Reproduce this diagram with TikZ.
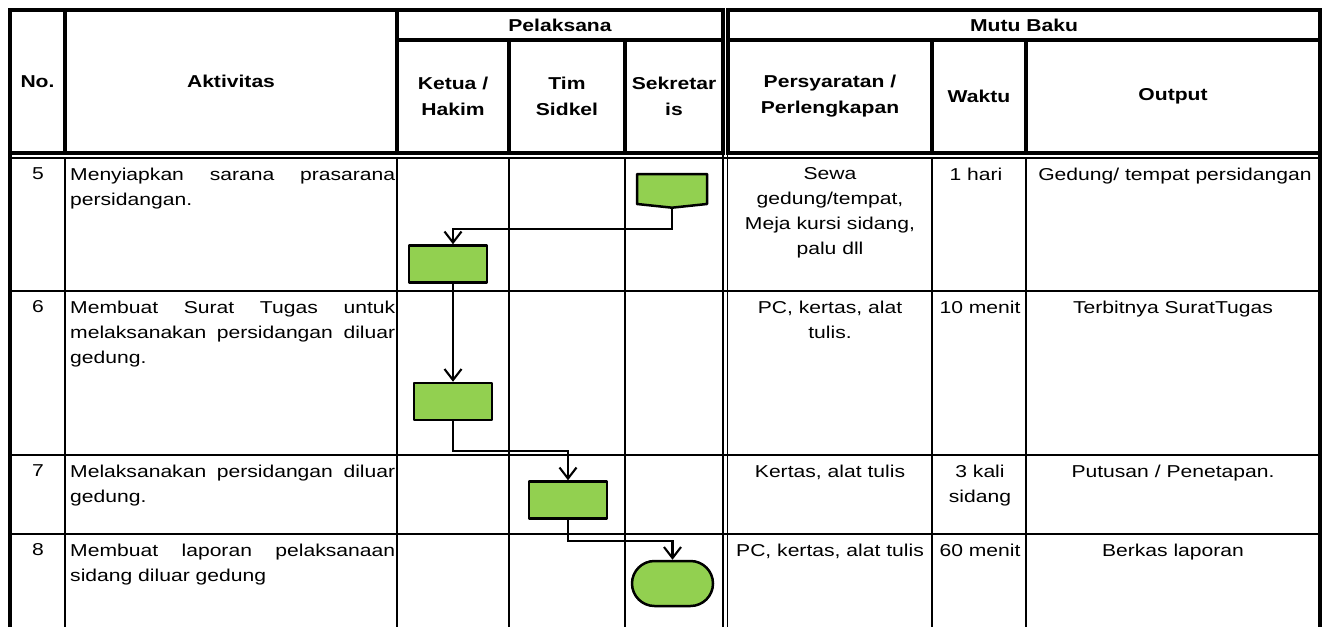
\documentclass[tikz,border=0pt]{standalone}
\usepackage{fontspec}
\setmainfont{Liberation Sans}[FakeStretch=1.227]
\usepackage{tikz}
\usetikzlibrary{positioning, arrows.meta, shapes.misc, shapes.symbols}
\definecolor{flowgreen}{HTML}{92D050}

\begin{document}
\begin{tikzpicture}[
  x=1pt, y=-1pt,
  font=\fontsize{17.2}{25}\selectfont,
  heavyrule/.style={line width=3.5pt},
  lightrule/.style={line width=1.8pt},
  borderrule/.style={line width=4.5pt},
  head/.style={font=\fontsize{17.2}{26}\selectfont\bfseries, align=center,
               inner sep=0pt},
  cell/.style={anchor=north, align=center, inner sep=0pt},
  act/.style={anchor=north west, text width=325pt, align=justify,
              inner sep=0pt},
  proc/.style={draw, fill=flowgreen, line width=2.5pt, line join=round,
               minimum width=78pt, minimum height=37pt, inner sep=0pt},
  offpage/.style={draw, fill=flowgreen, line width=2.5pt, line join=round,
                  shape=signal, signal to=south, signal from=nowhere,
                  signal pointer angle=168, minimum width=70pt,
                  minimum height=30pt, inner sep=0pt},
  term/.style={draw, fill=flowgreen, line width=2.5pt, rounded rectangle,
               minimum width=81pt, minimum height=45pt, inner sep=0pt},
  arr/.style={-{Straight Barb[length=11pt, width=17pt]}, line width=2.1pt},
]
\useasboundingbox (0,0) rectangle (1328,627);

% header frame
\draw[heavyrule] (10,10) rectangle (723,153);
\draw[heavyrule] (728,10) rectangle (1320,153);
\draw[heavyrule] (65,10) -- (65,153);
\draw[heavyrule] (397,10) -- (397,153);
\draw[heavyrule] (397,40) -- (723,40);
\draw[heavyrule] (509,40) -- (509,153);
\draw[heavyrule] (625,40) -- (625,153);
\draw[heavyrule] (728,40) -- (1320,40);
\draw[heavyrule] (932,40) -- (932,153);
\draw[heavyrule] (1026,40) -- (1026,153);
\draw[lightrule] (10,158) -- (1320,158);

% body grid
\draw[borderrule] (10,153) -- (10,627);
\draw[borderrule] (1320,153) -- (1320,627);
\draw[lightrule] (65,158) -- (65,627);
\draw[lightrule] (397,158) -- (397,627);
\draw[lightrule] (509,158) -- (509,627);
\draw[lightrule] (625,158) -- (625,627);
\draw[lightrule] (723,153) -- (723,627);
\draw[lightrule] (727.5,153) -- (727.5,627);
\draw[lightrule] (932,158) -- (932,627);
\draw[lightrule] (1026,158) -- (1026,627);
\draw[lightrule] (10,291) -- (1320,291);
\draw[lightrule] (10,455) -- (1320,455);
\draw[lightrule] (10,534) -- (1320,534);

% header labels
\node[head] (no) at (37.5,81.5) {No.};
\node[head] (aktivitas) at (231,81.5) {Aktivitas};
\node[head] (pelaksana) at (560,25) {Pelaksana};
\node[head] (ketua) at (453,96.5) {Ketua /\\Hakim};
\node[head] (tim) at (567,96.5) {Tim\\Sidkel};
\node[head] (sekretaris) at (674,96.5) {Sekretar\\is};
\node[head] (mutu) at (1024,25) {Mutu Baku};
\node[head] (syarat) at (830,96.5) {Persyaratan /\\Perlengkapan};
\node[head] (waktu) at (979,96.5) {Waktu};
\node[head] (output) at (1173,96.5) {Output};

% row 5
\node[cell] (n5) at (38,167.5) {5};
\node[act] (a5) at (70,167.5) {Menyiapkan sarana prasarana\linebreak persidangan.};
\node[cell] (p5) at (830,167.5) {Sewa\\gedung/tempat,\\Meja kursi sidang,\\palu dll};
\node[cell] (w5) at (976,167.5) {1 hari};
\node[cell] (o5) at (1175,167.5) {Gedung/ tempat persidangan};

% row 6
\node[cell] (n6) at (38,300.5) {6};
\node[act] (a6) at (70,300.5) {Membuat Surat Tugas untuk\linebreak melaksanakan persidangan diluar\linebreak gedung.};
\node[cell] (p6) at (830,300.5) {PC, kertas, alat\\tulis.};
\node[cell] (w6) at (980,300.5) {10 menit};
\node[cell] (o6) at (1173,300.5) {Terbitnya SuratTugas};

% row 7
\node[cell] (n7) at (38,464.5) {7};
\node[act] (a7) at (70,464.5) {Melaksanakan persidangan diluar\linebreak gedung.};
\node[cell] (p7) at (830,464.5) {Kertas, alat tulis};
\node[cell] (w7) at (980,464.5) {3 kali\\sidang};
\node[cell] (o7) at (1173,464.5) {Putusan / Penetapan.};

% row 8
\node[cell] (n8) at (38,543.5) {8};
\node[act] (a8) at (70,543.5) {Membuat laporan pelaksanaan\linebreak sidang diluar gedung};
\node[cell] (p8) at (830,543.5) {PC, kertas, alat tulis};
\node[cell] (w8) at (980,543.5) {60 menit};
\node[cell] (o8) at (1173,543.5) {Berkas laporan};

% flow
\node[offpage] (s1) at (672,189) {};
\node[proc] (k1) at (448,264) {};
\node[proc] (k2) at (453,401.5) {};
\node[proc] (t1) at (568,500) {};
\node[term] (e1) at (672.5,583.5) {};

\draw[arr] (s1.south) -- ++(0,20) -| ([xshift=5pt]k1.north);
\draw[arr] ([xshift=5pt]k1.south) -- (k2.north);
\draw[arr] (k2.south) -- ++(0,30) -| (t1.north);
\draw[arr] (t1.south) -- ++(0,21) -| (e1.north);
\end{tikzpicture}
\end{document}
